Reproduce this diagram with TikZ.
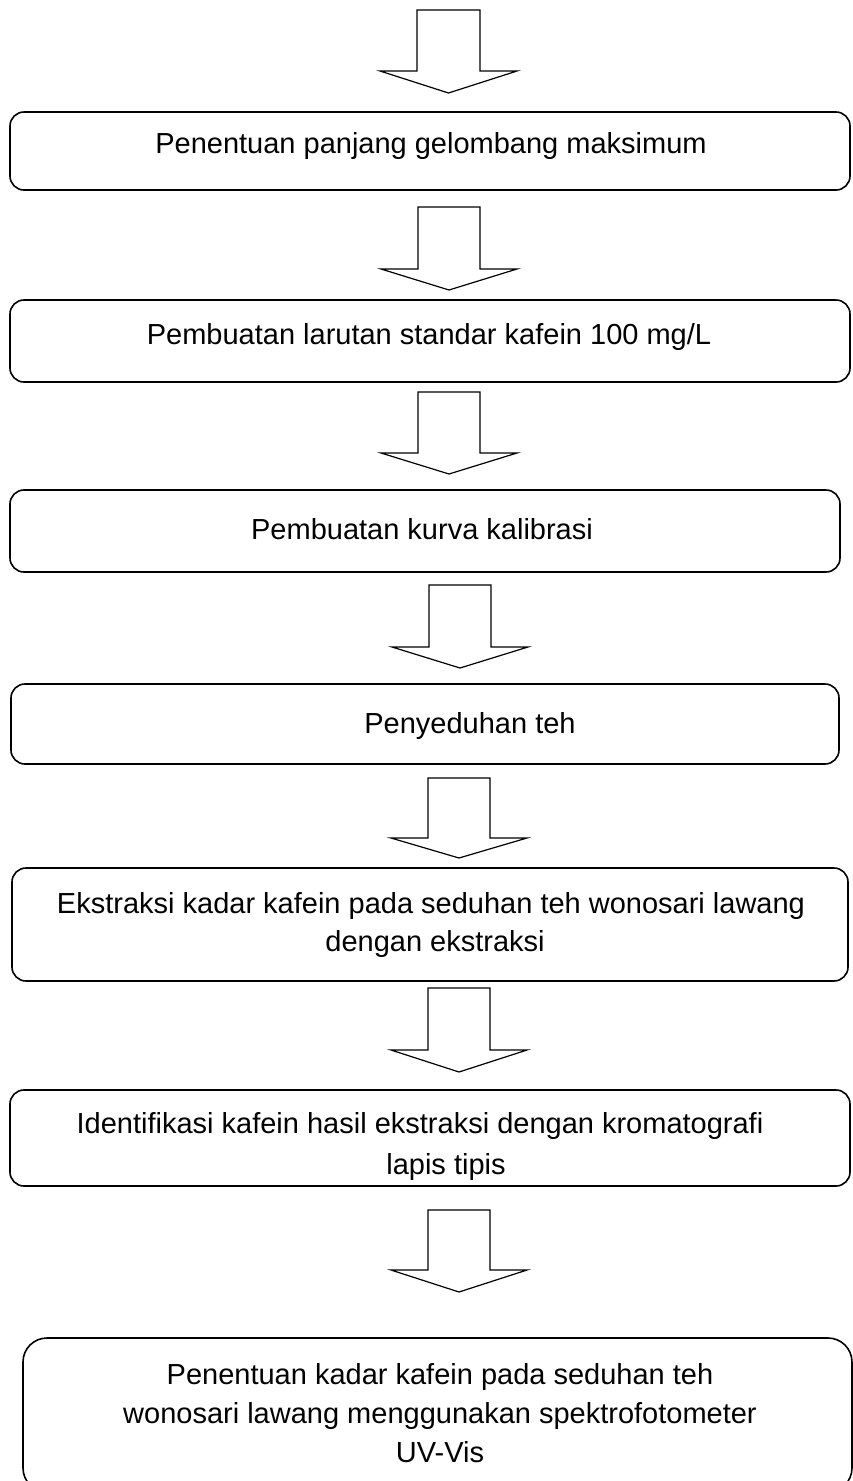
\documentclass[tikz,border=0pt]{standalone}
\usepackage{fontspec}
\setmainfont{Liberation Sans}
\begin{document}
\begin{tikzpicture}[x=1pt,y=-1pt,
  stepbox/.style={draw=black,line width=1.6pt,rounded corners=14pt,fill=white},
  bigbox/.style={draw=black,line width=1.6pt,rounded corners=24pt,fill=white},
  blockarrow/.style={draw=black,line width=1.2pt,fill=white,line join=miter},
  lbl/.style={anchor=base,inner sep=0pt,font=\fontsize{29}{33}\selectfont}]
\useasboundingbox (0,0) rectangle (853,1481);
\clip (0,0) rectangle (853,1481);
\newcommand{\blockarr}[5]{% left right top wing tip
  \draw[blockarrow] (#1,#3) -- (#2,#3) -- (#2,#4) -- ({#2+37},#4) -- ({(#1+#2)/2},#5) -- ({#1-37},#4) -- (#1,#4) -- cycle;}
% arrows
\blockarr{417}{480}{10}{71}{93}
\blockarr{418}{480}{207}{269}{290}
\blockarr{418}{480}{392}{453}{474}
\blockarr{429}{491}{585}{647}{668}
\blockarr{428}{490}{778}{838}{858}
\blockarr{428}{490}{988}{1050}{1072}
\blockarr{428}{490}{1210}{1270}{1292}
% boxes
\path[stepbox] (10,112) rectangle (850,190);
\node[lbl] (t1) at (431,153) {Penentuan panjang gelombang maksimum};
\path[stepbox] (10,300) rectangle (850,382);
\node[lbl] (t2) at (429,344) {Pembuatan larutan standar kafein 100 mg/L};
\path[stepbox] (10,490) rectangle (840,572);
\node[lbl] (t3) at (422,539) {Pembuatan kurva kalibrasi};
\path[stepbox] (11,684) rectangle (839,764);
\node[lbl] (t4) at (470,733) {Penyeduhan teh};
\path[stepbox] (12,868) rectangle (848,981);
\node[lbl] (t5a) at (431,913) {Ekstraksi kadar kafein pada seduhan teh wonosari lawang};
\node[lbl] (t5b) at (435,951) {dengan ekstraksi};
\path[stepbox] (10,1090) rectangle (850,1186);
\node[lbl] (t6a) at (420,1133) {Identifikasi kafein hasil ekstraksi dengan kromatografi};
\node[lbl] (t6b) at (446,1174) {lapis tipis};
\path[bigbox] (23,1338) rectangle (852,1492);
\node[lbl] (t7a) at (440,1384) {Penentuan kadar kafein pada seduhan teh};
\node[lbl] (t7b) at (440,1423) {wonosari lawang menggunakan spektrofotometer};
\node[lbl] (t7c) at (440,1462) {UV-Vis};
\end{tikzpicture}
\end{document}
